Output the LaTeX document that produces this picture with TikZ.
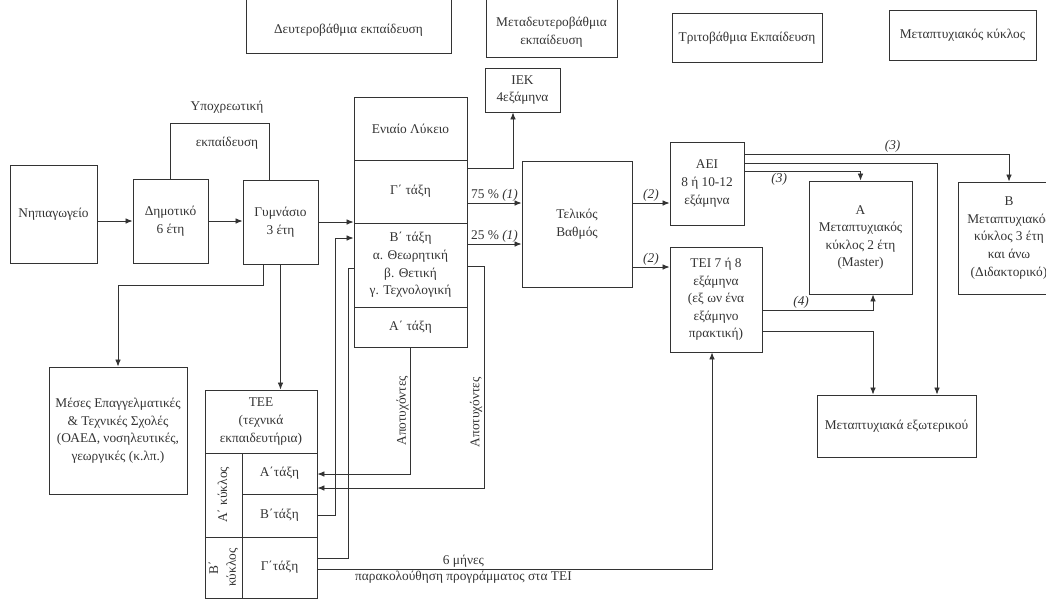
\documentclass[tikz,border=0pt]{standalone}
\usepackage{fontspec}
\setmainfont{Liberation Serif}
\usepackage{tikz}
\usetikzlibrary{arrows.meta, calc, positioning}

\newcommand{\fs}{\fontsize{9.5}{12.5}\selectfont}
\tikzset{
  box/.style={draw, align=center, inner sep=1pt, font=\fs},
  txt/.style={align=center, inner sep=1pt, font=\fs},
  arr/.style={-{Latex[length=5pt,width=4pt]}},
}

\begin{document}
\begin{tikzpicture}[x=0.025cm, y=-0.025cm, line width=0.6pt, color=black!80]
\useasboundingbox (0,0) rectangle (1046,600);
\clip (0,0) rectangle (1046,600);

% header row
\draw (246,-5) rectangle (451,53);
\node[txt] (hsec) at (348.5,30) {Δευτεροβάθμια εκπαίδευση};
\draw (486,-5) rectangle (617,57);
\node[txt] (hpost) at (551.5,32) {Μεταδευτεροβάθμια\\εκπαίδευση};
\draw (672,13) rectangle (822,62);
\node[txt] (hter) at (747,38) {Τριτοβάθμια Εκπαίδευση};
\draw (889,10) rectangle (1036,60);
\node[txt] (hgrad) at (962.5,35) {Μεταπτυχιακός κύκλος};

% compulsory school
\node[box, minimum width=2.175cm, minimum height=2.45cm] (nip) at (53.5,214) {Νηπιαγωγείο};
\node[box, minimum width=1.875cm, minimum height=2.1cm] (dim) at (170.5,221) {Δημοτικό\\6 έτη};
\node[box, minimum width=1.875cm, minimum height=2.1cm] (gym) at (280.5,222) {Γυμνάσιο\\3 έτη};
\node[txt] (ypo) at (227,107) {Υποχρεωτική};
\node[txt] (ypo2) at (227,143) {εκπαίδευση};
\coordinate (brk) at (269,123);

% lyceum
\node[box, minimum width=2.825cm, minimum height=1.575cm] (lyk) at (410.5,128.5) {Ενιαίο Λύκειο};
\node[box, minimum width=2.825cm, minimum height=1.575cm] (lykG) at (410.5,191.5) {Γ΄ τάξη};
\node[box, minimum width=2.825cm, minimum height=2.1cm] (lykB) at (410.5,265) {Β΄ τάξη\\α. Θεωρητική\\β. Θετική\\γ. Τεχνολογική};
\node[box, minimum width=2.825cm, minimum height=1cm] (lykA) at (410.5,327) {Α΄ τάξη};

% vocational
\node[box, minimum width=3.45cm, minimum height=3.175cm] (mes) at (118,430.5) {Μέσες Επαγγελματικές\\\& Τεχνικές Σχολές\\(ΟΑΕΔ, νοσηλευτικές,\\γεωργικές (κ.λπ.)};
\node[box, minimum width=2.8cm, minimum height=1.575cm] (tee) at (261,421.5) {ΤΕΕ\\(τεχνικά\\εκπαιδευτήρια)};
\node[box, minimum width=1.875cm, minimum height=1.025cm] (teeA) at (279.5,473.5) {Α΄τάξη};
\node[box, minimum width=1.875cm, minimum height=1.075cm] (teeB) at (279.5,515.5) {Β΄τάξη};
\node[box, minimum width=1.875cm, minimum height=1.525cm] (teeG) at (279.5,567.5) {Γ΄τάξη};
\node[box, rotate=90, inner sep=0pt, minimum width=2.1cm, minimum height=0.925cm] (kyklA) at (223.5,495) {Α΄ κύκλος};
\node[box, rotate=90, inner sep=0pt, minimum width=1.525cm, minimum height=0.925cm] (kyklB) at (223.5,567.5) {Β΄\\κύκλος};

% post-secondary and tertiary
\node[box, minimum width=1.875cm, minimum height=1.1cm] (iek) at (522.5,90) {ΙΕΚ\\4εξάμηνα};
\node[box, minimum width=2.75cm, minimum height=3.15cm] (tel) at (577,224) {Τελικός\\Βαθμός};
\node[box, minimum width=1.85cm, minimum height=2.075cm] (aei) at (707,183.5) {ΑΕΙ\\8 ή 10-12\\εξάμηνα};
\node[box, minimum width=2.3cm, minimum height=2.625cm] (tei) at (716,299.5) {ΤΕΙ 7 ή 8\\εξάμηνα\\(εξ ων ένα\\εξάμηνο\\πρακτική)};
\node[box, minimum width=2.575cm, minimum height=2.825cm] (mA) at (860.5,237.5) {Α\\Μεταπτυχιακός\\κύκλος 2 έτη\\(Master)};
\node[box, minimum width=2.55cm, minimum height=2.8cm] (mB) at (1009,238) {Β\\Μεταπτυχιακός\\κύκλος 3 έτη\\και άνω\\(Διδακτορικό)};
\node[box, minimum width=3.975cm, minimum height=1.55cm] (mext) at (896.5,426) {Μεταπτυχιακά εξωτερικού};

% bend points
\coordinate (gm) at (263,285);
\coordinate (bup) at (335,238);
\coordinate (gdn) at (348,558);
\coordinate (gup) at (348,268);
\coordinate (fa) at (410.5,474);
\coordinate (fb1) at (484,266);
\coordinate (fb2) at (484,488);
\coordinate (ik) at (513,168);
\coordinate (r75) at (0,203);
\coordinate (r25) at (0,244);
\coordinate (r2b) at (0,267);
\coordinate (a1) at (0,154);
\coordinate (a2) at (937,163);
\coordinate (a3) at (0,171);
\coordinate (t4) at (873,310);
\coordinate (t5) at (873,331);
\coordinate (g6) at (712,569);

% connectors
\draw[arr] (nip.east |- dim.west) -- (dim.west);
\draw[arr] (dim.east) -- (dim.east -| gym.west);
\draw[arr] (gym.east) -- (gym.east -| lykB.west);
\draw (dim.north) |- (brk) -- (brk |- gym.north);
\draw[arr] (gym.south) -- (gym.south |- tee.north);
\draw[arr] (gm |- gym.south) -- (gm) -| (mes.north);
\draw[arr] (teeB.east) -| (bup) -- (bup -| lykB.west);
\draw (gdn -| teeG.east) -- (gdn) -- (gup) -- (gup -| lykB.west);
\draw[arr] (lykA.south) -- node[txt, anchor=south, rotate=90, pos=0.5]{Αποτυχόντες} (fa) -- (fa -| teeA.east);
\draw[arr] (fb1 -| lykB.east) -- (fb1) -- node[txt, anchor=south, rotate=90, pos=0.66]{Αποτυχόντες} (fb2) -- (fb2 -| teeA.east);
\draw[arr] (ik -| lykG.east) -- (ik) -- (ik |- iek.south);
\draw[arr] (lykG.east |- r75) -- node[txt, above]{75 \% \textit{(1)}} (tel.west |- r75);
\draw[arr] (lykB.east |- r25) -- node[txt, above]{25 \% \textit{(1)}} (tel.west |- r25);
\draw[arr] (tel.east |- r75) -- node[txt, above]{\textit{(2)}} (aei.west |- r75);
\draw[arr] (tel.east |- r2b) -- node[txt, above]{\textit{(2)}} (tei.west |- r2b);
\draw[arr] (aei.east |- a1) -| node[txt, pos=0.28, above]{\textit{(3)}} (mB.north);
\draw[arr] (aei.east |- a2) -- (a2) -- (a2 |- mext.north);
\draw[arr] (aei.east |- a3) -| node[txt, pos=0.15, below]{\textit{(3)}} (mA.north);
\draw[arr] (tei.east |- t4) -- node[txt, pos=0.35, above]{\textit{(4)}} (t4) -- (t4 |- mA.south);
\draw[arr] (tei.east |- t5) -- (t5) -- (t5 |- mext.north);
\draw[arr] (teeG.east |- g6) -- node[txt, pos=0.37, above]{6 μήνες} node[txt, pos=0.37, below]{παρακολούθηση προγράμματος στα ΤΕΙ} (g6) -- (g6 |- tei.south);
\end{tikzpicture}
\end{document}
